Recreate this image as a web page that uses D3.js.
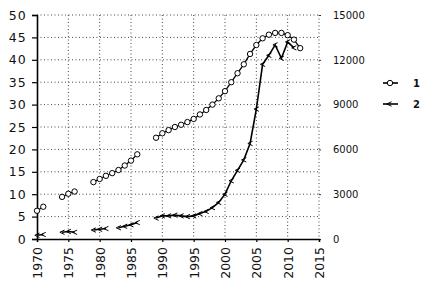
<!DOCTYPE html>
<html>
<head>
<meta charset="utf-8">
<script src="https://cdn.jsdelivr.net/npm/d3@7"></script>
<style>
  body { margin: 0; background: #fff; }
  svg { display: block; }
  text { font-family: "DejaVu Sans", sans-serif; fill: #111; }
</style>
</head>
<body>
<svg id="chart" width="422" height="284"></svg>
<script>
// data (null = no value that year)
const years = [1970, 1971, 1972, 1973, 1974, 1975, 1976, 1977, 1978, 1979,
               1980, 1981, 1982, 1983, 1984, 1985, 1986, 1987, 1988, 1989,
               1990, 1991, 1992, 1993, 1994, 1995, 1996, 1997, 1998, 1999,
               2000, 2001, 2002, 2003, 2004, 2005, 2006, 2007, 2008, 2009,
               2010, 2011, 2012];
const series1 = [6.3, 7.2, null, null, 9.4, 10.1, 10.6, null, null, 12.7,
                 13.4, 14.1, 14.7, 15.4, 16.4, 17.5, 18.9, null, null, 22.6,
                 23.6, 24.3, 25.0, 25.5, 26.1, 26.8, 27.8, 28.8, 30.0, 31.4,
                 33.0, 35.0, 37.0, 39.0, 41.3, 43.3, 44.8, 45.6, 46.0, 46.0,
                 45.5, 44.5, 42.6];
const series2 = [250, 300, null, null, 450, 500, 450, null, null, 600,
                 650, 700, null, 750, 850, 950, 1100, null, null, 1400,
                 1550, 1550, 1600, 1550, 1500, 1550, 1700, 1850, 2100, 2450,
                 3000, 3900, 4600, 5300, 6400, 8700, 11700, 12300, 13000, 12100,
                 13200, 12800, null];
const xTicks = [1970, 1975, 1980, 1985, 1990, 1995, 2000, 2005, 2010, 2015];
const leftTicks = [0, 5, 10, 15, 20, 25, 30, 35, 40, 45, 50];
const rightTicks = [0, 3000, 6000, 9000, 12000, 15000];
const legendNames = ["1", "2"];

const svg = d3.select("#chart");

const x = d3.scaleLinear().domain([1970, 2015]).range([37, 319]);
const yL = d3.scaleLinear().domain([0, 50]).range([239, 15]);
const yR = d3.scaleLinear().domain([0, 15000]).range([239, 15]);

// dotted grid
const grid = svg.append("g").attr("stroke", "#444").attr("stroke-width", 1)
    .attr("stroke-dasharray", "1,2.5");
grid.selectAll("line.v")
    .data(xTicks.slice(1))
    .enter().append("line")
    .attr("x1", d => x(d)).attr("x2", d => x(d))
    .attr("y1", yL(50)).attr("y2", yL(0));
grid.selectAll("line.h")
    .data(leftTicks.slice(1))
    .enter().append("line")
    .attr("x1", x(1970)).attr("x2", x(2015))
    .attr("y1", d => yL(d)).attr("y2", d => yL(d));

// left axis
const leftAxis = d3.axisLeft(yL).tickValues(leftTicks).tickSize(5).tickPadding(5);
const gl = svg.append("g").attr("transform", `translate(${x(1970)},0)`).call(leftAxis);
gl.select(".domain").attr("stroke", "#000").attr("stroke-width", 1.6);
gl.selectAll(".tick line").attr("stroke", "#000").attr("stroke-width", 1.2);
gl.selectAll("text").style("font-size", "12.5px").style("letter-spacing", "1.2px")
    .attr("fill", "#111");

// right axis (labels only)
const rightAxis = d3.axisRight(yR).tickValues(rightTicks).tickSize(2).tickPadding(12)
    .tickFormat(d3.format("d"));
const gr = svg.append("g").attr("transform", `translate(${x(2015)},0)`).call(rightAxis);
gr.select(".domain").remove();
gr.selectAll(".tick line").attr("stroke", "#333");
gr.selectAll("text").style("font-size", "10px").attr("fill", "#111");

// bottom axis
const bottomAxis = d3.axisBottom(x).tickValues(xTicks).tickSize(3).tickFormat(d3.format("d"));
const gb = svg.append("g").attr("transform", `translate(0,${yL(0)})`).call(bottomAxis);
gb.select(".domain").attr("stroke", "#000").attr("stroke-width", 1.4);
gb.selectAll(".tick line").attr("stroke", "#000").attr("stroke-width", 1.2);
gb.selectAll("text")
    .style("font-size", "12.5px")
    .attr("fill", "#111")
    .attr("text-anchor", "end")
    .attr("transform", "rotate(-90)")
    .attr("x", -8).attr("y", 0).attr("dy", "0.36em");

const rows1 = years.map((y, i) => ({ year: y, v: series1[i] }));
const rows2 = years.map((y, i) => ({ year: y, v: series2[i] }));

const line1 = d3.line().defined(d => d.v != null).x(d => x(d.year)).y(d => yL(d.v));
const line2 = d3.line().defined(d => d.v != null).x(d => x(d.year)).y(d => yR(d.v));

svg.append("path").datum(rows2).attr("d", line2)
    .attr("fill", "none").attr("stroke", "#000").attr("stroke-width", 1.6);
svg.append("path").datum(rows1).attr("d", line1)
    .attr("fill", "none").attr("stroke", "#000").attr("stroke-width", 1.3);

// series 2 markers: little open "<"
const mark2 = "M2.5,-2.2 L-2.2,0 L2.5,2.2";
svg.selectAll("path.m2")
    .data(rows2.filter(d => d.v != null))
    .enter().append("path")
    .attr("class", "m2")
    .attr("d", mark2)
    .attr("transform", d => `translate(${x(d.year)},${yR(d.v)})`)
    .attr("fill", "none").attr("stroke", "#000").attr("stroke-width", 1);

// series 1 markers: open circles
svg.selectAll("circle.m1")
    .data(rows1.filter(d => d.v != null))
    .enter().append("circle")
    .attr("class", "m1")
    .attr("cx", d => x(d.year)).attr("cy", d => yL(d.v))
    .attr("r", 2.7)
    .attr("fill", "#fff").attr("stroke", "#000").attr("stroke-width", 1);

// legend
const legend = svg.append("g").attr("transform", "translate(383,83)");
legendNames.forEach((name, i) => {
    const g = legend.append("g").attr("transform", `translate(0,${i * 21})`);
    g.append("line").attr("x1", 0).attr("x2", 15).attr("y1", 0).attr("y2", 0)
        .attr("stroke", "#000").attr("stroke-width", 1.6);
    if (i === 0) {
        g.append("circle").attr("cx", 7).attr("cy", 0).attr("r", 2.7)
            .attr("fill", "#fff").attr("stroke", "#000");
    } else {
        g.append("path").attr("d", mark2).attr("transform", "translate(6,0)")
            .attr("fill", "none").attr("stroke", "#000");
    }
    g.append("text").attr("x", 30).attr("y", 0).attr("dy", "0.35em")
        .style("font-size", "10px").style("font-weight", "bold").text(name);
});
</script>
</body>
</html>
